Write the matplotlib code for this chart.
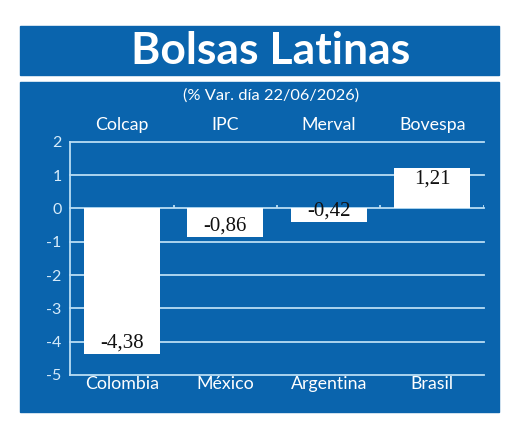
import matplotlib.pyplot as plt
from matplotlib.patches import Rectangle

# data
indices = ['Colcap', 'IPC', 'Merval', 'Bovespa']
countries = ['Colombia', 'México', 'Argentina', 'Brasil']
changes = [-4.38, -0.86, -0.42, 1.21]
yticks = [2, 1, 0, -1, -2, -3, -4, -5]

W, H = 520, 433
blue = '#0a64ad'
line_col = '#b9ddf5'
plt.rcParams['font.family'] = ['Lato', 'DejaVu Sans']


def fx(px):
    return px / W


def fy(py):
    # pixel y measured from top
    return 1 - py / H


fig = plt.figure(figsize=(W / 100, H / 100), dpi=100, facecolor='white')

# title box and main panel
fig.patches.append(Rectangle((fx(20), fy(75)), fx(479), (75 - 26) / H,
                             transform=fig.transFigure, color=blue, zorder=-5))
fig.patches.append(Rectangle((fx(20), fy(412)), fx(479), (412 - 82) / H,
                             transform=fig.transFigure, color=blue, zorder=-5))
fig.text(fx(271), fy(51), 'Bolsas Latinas', color='white', fontsize=32,
         fontweight='bold', ha='center', va='center')
fig.text(fx(271), fy(96), '(% Var. día 22/06/2026)', color='white',
         fontsize=11.8, ha='center', va='center')

ax = fig.add_axes([fx(70), fy(375), fx(414), (375 - 141.7) / H])
ax.set_facecolor('none')

x = range(len(changes))
ax.bar(x, changes, width=0.73, color='white', zorder=2)

for t in yticks:
    ax.axhline(t, color=line_col, lw=1.3, zorder=1, clip_on=False)
# small upward ticks on the zero line between categories
ax.vlines([i + 0.5 for i in x], 0, 0.09, color=line_col, lw=1.3, zorder=1)

for i, v in enumerate(changes):
    lbl = f'{v:.2f}'.replace('.', ',')
    if v < 0:
        ax.text(i, v + 0.04, lbl, ha='center', va='bottom', fontsize=15,
                family='Liberation Serif', color='#111111', zorder=3)
    else:
        ax.text(i, v - 0.06, lbl, ha='center', va='top', fontsize=15,
                family='Liberation Serif', color='#111111', zorder=3)

ax.set_xlim(-0.5, len(changes) - 0.5)
ax.set_ylim(-5, 2)
ax.set_yticks(yticks)
ax.set_yticklabels([str(t) for t in yticks])
ax.set_xticks(list(x))
ax.set_xticklabels(countries)
ax.tick_params(axis='y', length=0, pad=6, labelsize=11.5, labelcolor='#d6ebfa')
ax.tick_params(axis='x', length=0, pad=1, labelsize=12.8, labelcolor='white')

top = ax.secondary_xaxis('top')
top.set_xticks(list(x))
top.set_xticklabels(indices)
top.tick_params(length=0, pad=6, labelsize=12.8, labelcolor='white')
for s in top.spines.values():
    s.set_visible(False)

for s in ['top', 'right', 'bottom']:
    ax.spines[s].set_visible(False)
ax.spines['left'].set_color(line_col)
ax.spines['left'].set_linewidth(1.3)

fig.savefig('out.png', dpi=100, facecolor='white')
